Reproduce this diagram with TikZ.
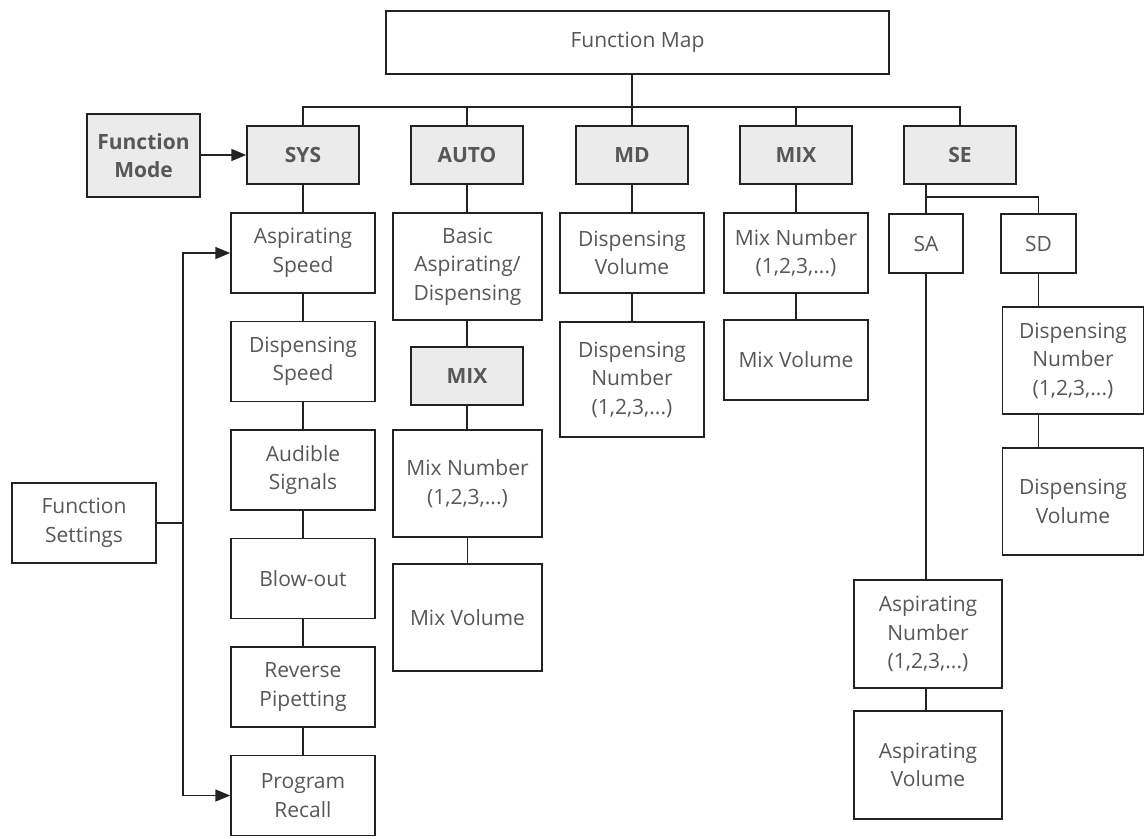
\documentclass[tikz,border=0pt]{standalone}
\usepackage{fontspec}
\setmainfont{Open Sans}
\usetikzlibrary{arrows.meta}
\definecolor{txt}{HTML}{575757}
\definecolor{ln}{HTML}{222222}
\definecolor{gfill}{HTML}{EBEBEB}
\tikzset{
  bx/.style={draw=ln, line width=1.5pt, rectangle, inner sep=2pt, align=center,
    text=txt, font=\fontsize{21}{28.5}\selectfont, minimum width=144pt, minimum height=80pt},
  gbx/.style={bx, fill=gfill, font=\fontsize{21}{28.5}\selectfont\bfseries, minimum width=112pt, minimum height=58pt},
  con/.style={draw=ln, line width=1.5pt},
  arr/.style={con, -{Triangle[length=15pt,width=12pt]}}
}
\begin{document}
\begin{tikzpicture}[x=1pt,y=-1pt]
\useasboundingbox (0,0) rectangle (1145,838);
% top
\node[bx, minimum width=503pt, minimum height=63pt] (fmap) at (637.5,42.5) {Function Map};
\node[gbx, minimum width=113pt, minimum height=83pt] (fmode) at (143.5,155.5) {Function\\Mode};
\node[gbx] (sys) at (303,155) {SYS};
\node[gbx] (auto) at (467,155) {AUTO};
\node[gbx] (md) at (632,155) {MD};
\node[gbx] (mix) at (796,155) {MIX};
\node[gbx] (se) at (960,155) {SE};
% SYS column
\node[bx] (asp) at (303,253) {Aspirating\\Speed};
\node[bx] (disp) at (303,361.5) {Dispensing\\Speed};
\node[bx] (aud) at (303,470) {Audible\\Signals};
\node[bx] (blow) at (303,578.5) {Blow-out};
\node[bx] (rev) at (303,687) {Reverse\\Pipetting};
\node[bx] (prog) at (303,795.5) {Program\\Recall};
\node[bx] (fset) at (84,523) {Function\\Settings};
% AUTO column
\node[bx, minimum width=149pt, minimum height=107pt] (basic) at (467.5,266.5) {Basic\\Aspirating/\\Dispensing};
\node[gbx] (amix) at (467,376) {MIX};
\node[bx, minimum width=149pt, minimum height=107pt] (amixnum) at (467.5,483.5) {Mix Number\\(1,2,3,...)};
\node[bx, minimum width=149pt, minimum height=107pt] (amixvol) at (467.5,617.5) {Mix Volume};
% MD column
\node[bx] (mdvol) at (632,253) {Dispensing\\Volume};
\node[bx, minimum height=115pt] (mdnum) at (632,379.5) {Dispensing\\Number\\(1,2,3,...)};
% MIX column
\node[bx] (mixnum) at (796,253) {Mix Number\\(1,2,3,...)};
\node[bx] (mixvol) at (796,360) {Mix Volume};
% SE
\node[bx, minimum width=74pt, minimum height=59pt] (sa) at (926,243.5) {SA};
\node[bx, minimum width=75pt, minimum height=59pt] (sd) at (1038.5,243.5) {SD};
\node[bx, minimum width=148pt, minimum height=108pt] (aspnum) at (928,634) {Aspirating\\Number\\(1,2,3,...)};
\node[bx, minimum width=148pt, minimum height=108pt] (aspvol) at (928,765) {Aspirating\\Volume};
\node[bx, minimum width=141pt, minimum height=107pt] (sdnum) at (1073,360.5) {Dispensing\\Number\\(1,2,3,...)};
\node[bx, minimum width=141pt, minimum height=107pt] (sdvol) at (1073,501.5) {Dispensing\\Volume};
% bus
\coordinate (bus) at (0,107);
\coordinate (split) at (0,197);
\coordinate (tr) at (183,0);
\draw[con] (fmap.south -| md.north) -- (md.north);
\draw[con] (sys.north) -- (sys.north |- bus) -- (se.north |- bus) -- (se.north);
\draw[con] (auto.north) -- (auto.north |- bus);
\draw[con] (mix.north) -- (mix.north |- bus);
\draw[arr] (fmode.east |- sys.west) -- (sys.west);
% SYS chain
\draw[con] (sys.south) -- (asp.north);
\draw[con] (asp.south) -- (disp.north);
\draw[con] (disp.south) -- (aud.north);
\draw[con] (aud.south) -- (blow.north);
\draw[con] (blow.south) -- (rev.north);
\draw[con] (rev.south) -- (prog.north);
\draw[con] (fset.east) -- (fset.east -| tr);
\draw[arr] (fset.east -| tr) |- (asp.west);
\draw[arr] (fset.east -| tr) |- (prog.west);
% AUTO chain
\draw[con] (auto.south) -- (auto.south |- basic.north);
\draw[con] (amix.north |- basic.south) -- (amix.north);
\draw[con] (amix.south) -- (amix.south |- amixnum.north);
\draw[con] (amixnum.south) -- (amixvol.north);
% MD chain
\draw[con] (md.south) -- (md.south |- mdvol.north);
\draw[con] (mdvol.south) -- (mdnum.north);
% MIX chain
\draw[con] (mix.south) -- (mixnum.north);
\draw[con] (mixnum.south) -- (mixvol.north);
% SE chain
\draw[con] (se.south -| sa.north) -- (sa.north);
\draw[con] (sa.north |- split) -| (sd.north);
\draw[con] (sa.south) -- (sa.south |- aspnum.north);
\draw[con] (aspnum.south -| sa.south) -- (aspvol.north -| sa.south);
\draw[con] (sd.south) -- (sd.south |- sdnum.north);
\draw[con] (sdnum.south -| sd.south) -- (sdvol.north -| sd.south);
\end{tikzpicture}
\end{document}
